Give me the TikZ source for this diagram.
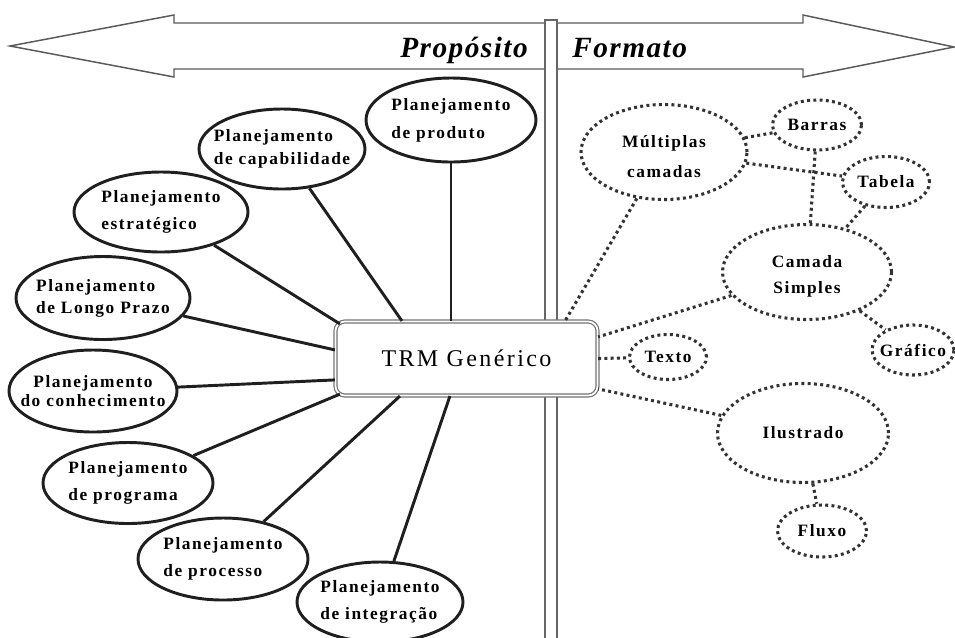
\documentclass[tikz,border=0pt]{standalone}
\usepackage{fontspec}
\setmainfont{Liberation Serif}
\newfontfamily\lblfont[LetterSpace=9]{Liberation Serif}
\newfontfamily\trmfont[LetterSpace=10]{Liberation Serif}
\newfontfamily\headfont[LetterSpace=5]{Liberation Serif}
\usetikzlibrary{calc,shapes.geometric}
\tikzset{
  sz/.style 2 args={minimum width=#1*0.75pt, minimum height=#2*0.75pt},
  solidell/.style={ellipse, draw=black!88, fill=white, line width=2.2pt, inner sep=0pt},
  dotell/.style={ellipse, draw=black!80, fill=white, line width=2.3pt, dash pattern=on 2.2pt off 2.5pt, inner sep=0pt},
  lbl/.style={font=\lblfont\bfseries\fontsize{13}{#1}\selectfont, align=left, inner sep=0pt},
  lbl/.default=20,
  solidline/.style={draw=black!88, line width=2.2pt},
  dotline/.style={draw=black!80, line width=2.3pt, dash pattern=on 2.2pt off 2.5pt},
  arrowshape/.style={draw=black!65, line width=1.1pt, fill=white},
  post/.style={draw=black!60, line width=1.1pt, fill=white},
  trm/.style={rectangle, rounded corners=7pt, draw=black!55, double=white, double distance=1.3pt, line width=0.9pt, fill=white, font=\trmfont\fontsize{18}{20}\selectfont},
  head/.style={font=\headfont\bfseries\itshape\fontsize{22}{24}\selectfont, inner sep=0pt}
}
\begin{document}
\begin{tikzpicture}[x=0.75pt, y=-0.75pt]
\useasboundingbox (0,0) rectangle (955,637);
% big double arrow
\draw[arrowshape] (10,46) -- (174,15) -- (174,23) -- (803,23) -- (803,15) -- (954,47)
  -- (803,77) -- (803,69) -- (174,69) -- (174,77) -- cycle;
% post
\draw[post] (545,20) rectangle (557,645);
\node[head, anchor=base east] (prop) at (528,57) {Propósito};
\node[head, anchor=base west] (form) at (572,57) {Formato};
% central box
\node[trm, sz={262}{74}] (box) at (466.5,358.5) {TRM Genérico};
% left ellipses
\node[solidell, sz={170}{84}, label={[lbl=21]center:{Planejamento\\de produto}}] (p1) at (451,120) {};
\node[solidell, sz={166}{80}, label={[lbl=17]center:{Planejamento\\de capabilidade}}] (p2) at (282,149) {};
\node[solidell, sz={174}{80}, label={[lbl=20]center:{Planejamento\\estratégico}}] (p3) at (161,212) {};
\node[solidell, sz={174}{83}, label={[lbl=16.5]center:{Planejamento\\de Longo Prazo}}] (p4) at (103,298) {};
\node[solidell, sz={168}{82}, label={[lbl=14, align=center]center:{Planejamento\\do conhecimento}}] (p5) at (93,391) {};
\node[solidell, sz={170}{81}, label={[lbl=20]center:{Planejamento\\de programa}}] (p6) at (128,483) {};
\node[solidell, sz={170}{82}, label={[lbl=20]center:{Planejamento\\de processo}}] (p7) at (223,559) {};
\node[solidell, sz={166}{80}, label={[lbl=20]center:{Planejamento\\de integração}}] (p8) at (380,602) {};
% left connectors
\draw[solidline] (p1.south) -- (p1.south |- box.north);
\draw[solidline] (p2) -- ($(box.north west)+(67,0)$);
\draw[solidline] (p3) -- ($(box.north west)+(5,3)$);
\draw[solidline] (p4) -- ($(box.north west)+(0,29)$);
\draw[solidline] (p5) -- ($(box.north west)+(0,59)$);
\draw[solidline] (p6) -- ($(box.south west)+(5,-2)$);
\draw[solidline] (p7) -- ($(box.south west)+(65,0)$);
\draw[solidline] (p8) -- ($(box.south west)+(115,0)$);
% right ellipses
\node[dotell, sz={166}{95}, label={[lbl=22.5, align=center, yshift=-3.5pt]center:{Múltiplas\\camadas}}] (mc) at (664,152) {};
\node[dotell, sz={89}{50}, label={[lbl]center:{Barras}}] (ba) at (817,125) {};
\node[dotell, sz={87}{51}, label={[lbl]center:{Tabela}}] (tb) at (886,182) {};
\node[dotell, sz={169}{95}, label={[lbl=19.5, align=center, yshift=-3.5pt]center:{Camada\\Simples}}] (cs) at (807,272) {};
\node[dotell, sz={82}{50}, label={[lbl]center:{Gráfico}}] (gr) at (913,350) {};
\node[dotell, sz={77}{45}, label={[lbl]center:{Texto}}] (tx) at (668,357) {};
\node[dotell, sz={171}{99}, label={[lbl]center:{Ilustrado}}] (il) at (803,433) {};
\node[dotell, sz={89}{52}, label={[lbl]center:{Fluxo}}] (fl) at (822,531) {};
% right connectors
\draw[dotline] (mc) -- ($(box.north east)+(-33,0)$);
\draw[dotline] (mc) -- (ba);
\draw[dotline] (mc) -- (tb);
\draw[dotline] (ba) -- (cs);
\draw[dotline] (tb) -- (cs);
\draw[dotline] (cs) -- (gr);
\draw[dotline] (cs) -- ($(box.north east)+(0,16)$);
\draw[dotline] (box.east) -- (tx);
\draw[dotline] (il) -- ($(box.north east)+(0,68)$);
\draw[dotline] (il) -- (fl);
\end{tikzpicture}
\end{document}
